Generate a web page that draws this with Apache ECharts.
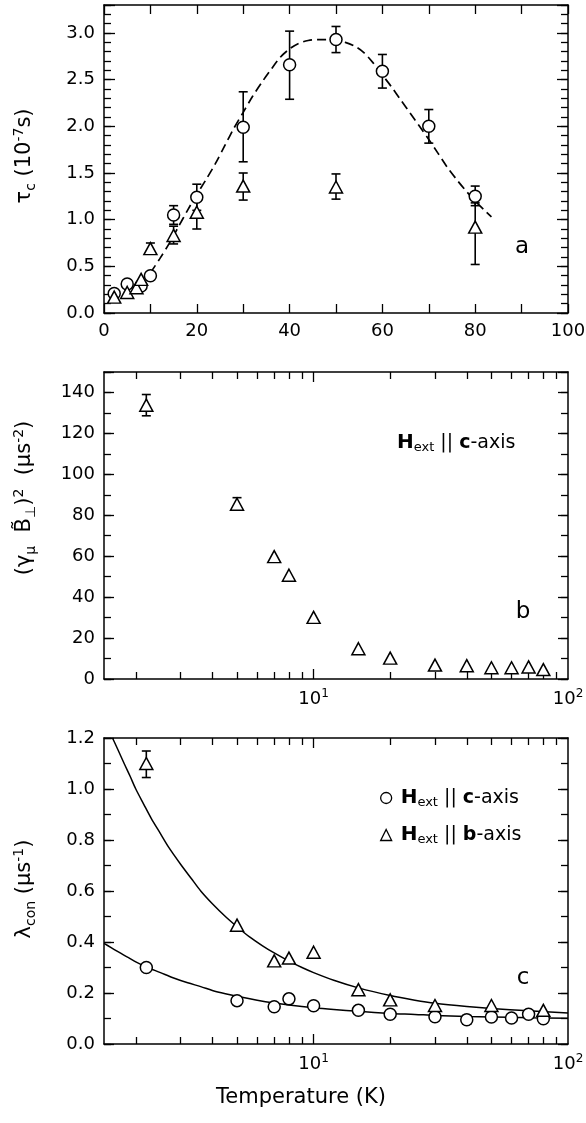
<!DOCTYPE html>
<html><head><meta charset="utf-8">
<script src="https://cdn.jsdelivr.net/npm/echarts@6/dist/echarts.min.js"></script>
<style>html,body{margin:0;padding:0;background:#fff}#c{width:586px;height:1123px}</style>
</head><body><div id="c"></div>
<script>
// ---------- Panel a: tau_c vs T (linear) ----------
const tA_circ = [2.2, 5, 8, 10, 15, 20, 30, 40, 50, 60, 70, 80];
const tauA_circ = [0.21, 0.31, 0.29, 0.40, 1.05, 1.24, 1.99, 2.66, 2.93, 2.59, 2.00, 1.25];
const tauA_circLo = [null, null, null, null, 0.95, 1.10, 1.62, 2.29, 2.79, 2.41, 1.82, 1.15];
const tauA_circHi = [null, null, null, null, 1.15, 1.38, 2.37, 3.02, 3.07, 2.77, 2.18, 1.36];
const tA_tri = [2.2, 5, 7, 8, 10, 15, 20, 30, 50, 80];
const tauA_tri = [0.17, 0.22, 0.27, 0.36, 0.69, 0.83, 1.08, 1.36, 1.35, 0.92];
const tauA_triLo = [null, null, null, null, 0.63, 0.74, 0.90, 1.21, 1.22, 0.52];
const tauA_triHi = [null, null, null, null, 0.75, 0.93, 1.27, 1.50, 1.49, 1.18];
const fitA_T = [10,12,14,16,18,20,22,24,26,28,30,32,34,36,38,40,42,44,46,48,50,52,54,56,58,60,62,64,66,68,70,72,74,76,78,80,82,83.5];
const fitA_Y = [0.43,0.58,0.74,0.92,1.10,1.27,1.43,1.60,1.79,1.98,2.15,2.32,2.47,2.61,2.74,2.83,2.89,2.92,2.93,2.93,2.92,2.90,2.86,2.79,2.68,2.55,2.42,2.28,2.14,2.00,1.86,1.71,1.56,1.43,1.31,1.20,1.10,1.03];
const xTicksA = [0, 20, 40, 60, 80, 100];

// ---------- Panel b: (gamma B)^2 vs T (log) ----------
const tB = [2.2, 5, 7, 8, 10, 15, 20, 30, 40, 50, 60, 70, 80];
const b2 = [133.8, 85.4, 59.8, 50.7, 30.1, 14.8, 10.2, 6.8, 6.5, 5.5, 5.5, 5.9, 4.6];
const b2Lo = [128.6, 82.6, null, null, null, null, null, null, null, null, null, null, null];
const b2Hi = [139.0, 88.6, null, null, null, null, null, null, null, null, null, null, null];

// ---------- Panel c: lambda_con vs T (log) ----------
const tC_circ = [2.2, 5, 7, 8, 10, 15, 20, 30, 40, 50, 60, 70, 80];
const lamC = [0.30, 0.17, 0.146, 0.177, 0.15, 0.132, 0.117, 0.107, 0.095, 0.106, 0.102, 0.117, 0.099];
const lamCLo = [null, null, null, null, null, null, null, null, 0.078, null, null, null, null];
const lamCHi = [null, null, null, null, null, null, null, null, 0.112, null, null, null, null];
const tC_tri = [2.2, 5, 7, 8, 10, 15, 20, 30, 50, 80];
const lamB = [1.10, 0.466, 0.326, 0.337, 0.36, 0.213, 0.173, 0.151, 0.151, 0.132];
const lamBLo = [1.045, null, null, null, null, null, null, null, null, null];
const lamBHi = [1.149, null, null, null, null, null, null, null, null, null];
const fitC_T = [1.5, 1.6, 1.75, 1.9, 2, 2.2, 2.5, 2.8, 3.2, 3.6, 4, 4.5, 5, 6, 7, 8, 10, 12, 15, 20, 25, 30, 40, 50, 70, 100];
const fitC_Y = [0.395, 0.378, 0.355, 0.335, 0.322, 0.302, 0.28, 0.26, 0.24, 0.225, 0.21, 0.197, 0.187, 0.172, 0.161, 0.153, 0.142, 0.135, 0.128, 0.12, 0.116, 0.112, 0.108, 0.106, 0.103, 0.101];
const fitB_T = [1.62, 1.7, 1.8, 1.9, 2.0, 2.15, 2.3, 2.5, 2.7, 3.0, 3.3, 3.6, 4, 4.5, 5, 5.6, 6.3, 7, 8, 9, 10, 12, 15, 20, 25, 30, 40, 50, 70, 100];
const fitB_Y = [1.2, 1.155, 1.10, 1.05, 1.0, 0.94, 0.885, 0.825, 0.77, 0.705, 0.65, 0.60, 0.55, 0.50, 0.46, 0.42, 0.385, 0.357, 0.325, 0.30, 0.28, 0.25, 0.22, 0.19, 0.172, 0.16, 0.147, 0.139, 0.13, 0.122];

// log-axis tick marks
const logMajor = [10];
const logMinor = [2, 3, 4, 5, 6, 7, 8, 9, 20, 30, 40, 50, 60, 70, 80, 90];
const logMin = 1.5, logMax = 100;

const FONT = 'DejaVu Sans';
const TICK_FS = 18;
const LINE = {show: true, onZero: false, lineStyle: {color: '#000', width: 1.5}};
function tick(len, custom) {
  const t = {show: true, inside: true, length: len, lineStyle: {color: '#000', width: 1.3}};
  if (custom) t.customValues = custom;
  return t;
}
function ax(gridIndex, position, cfg) {
  return Object.assign({
    gridIndex, position, type: 'value',
    splitLine: {show: false}, axisLine: {show: false, onZero: false},
    axisTick: {show: false}, axisLabel: {show: false},
    minorTick: {show: false}, minorSplitLine: {show: false}
  }, cfg);
}
function lab(formatter, extra) {
  return Object.assign({show: true, fontSize: TICK_FS, fontFamily: FONT, color: '#000', margin: 9, formatter}, extra || {});
}
const multipleOf = (v, m) => Math.abs(v / m - Math.round(v / m)) < 1e-6;

const logLabel = lab(function (v) {
  if (Math.abs(v - 10) < 1e-6) return '{n|10}{s|1}';
  if (Math.abs(v - 100) < 1e-6) return '{n|10}{s|2}';
  return '';
}, {rich: {
  n: {fontSize: TICK_FS, fontFamily: FONT, color: '#000', lineHeight: 22},
  s: {fontSize: 12, fontFamily: FONT, color: '#000', lineHeight: 9, verticalAlign: 'top'}
}});

function logXAxes(g) {
  const lm = Math.log10(logMin), lM = Math.log10(logMax);
  return [
    ax(g, 'bottom', {type: 'log', logBase: 10, min: logMin, max: logMax, axisLine: LINE, axisLabel: logLabel}),
    ax(g, 'top', {type: 'log', logBase: 10, min: logMin, max: logMax, axisLine: LINE}),
    ax(g, 'bottom', {min: lm, max: lM, axisTick: tick(10, logMajor.map(Math.log10))}),
    ax(g, 'bottom', {min: lm, max: lM, axisTick: tick(7, logMinor.map(Math.log10))}),
    ax(g, 'top', {min: lm, max: lM, axisTick: tick(10, logMajor.map(Math.log10))}),
    ax(g, 'top', {min: lm, max: lM, axisTick: tick(7, logMinor.map(Math.log10))})
  ];
}

const xAxis = [
  ax(0, 'bottom', {min: 0, max: 100, interval: 10, axisLine: LINE, axisTick: tick(9),
    axisLabel: lab(v => xTicksA.indexOf(v) >= 0 ? String(v) : '')}),
  ax(0, 'top', {min: 0, max: 100, interval: 10, axisLine: LINE, axisTick: tick(9)}),
  ...logXAxes(1),   // indices 2..7
  ...logXAxes(2)    // indices 8..13
];
const yAxis = [
  ax(0, 'left', {min: 0, max: 3.3, interval: 0.5, axisLine: LINE, axisTick: tick(11),
    axisLabel: lab(v => (multipleOf(v, 0.5) && v <= 3.01) ? v.toFixed(1) : '')}),
  ax(0, 'right', {min: 0, max: 3.3, interval: 0.5, axisLine: LINE, axisTick: tick(11)}),
  ax(0, 'left', {min: 0, max: 3.3, interval: 0.1, axisTick: tick(7)}),
  ax(0, 'right', {min: 0, max: 3.3, interval: 0.1, axisTick: tick(7)}),
  ax(1, 'left', {min: 0, max: 150, interval: 20, axisLine: LINE, axisTick: tick(10),
    axisLabel: lab(v => (multipleOf(v, 20) && v <= 140) ? String(v) : '')}),
  ax(1, 'right', {min: 0, max: 150, interval: 20, axisLine: LINE, axisTick: tick(10)}),
  ax(1, 'left', {min: 0, max: 150, interval: 10, axisTick: tick(7)}),
  ax(1, 'right', {min: 0, max: 150, interval: 10, axisTick: tick(7)}),
  ax(2, 'left', {min: 0, max: 1.2, interval: 0.2, axisLine: LINE, axisTick: tick(10),
    axisLabel: lab(v => v.toFixed(1))}),
  ax(2, 'right', {min: 0, max: 1.2, interval: 0.2, axisLine: LINE, axisTick: tick(10)}),
  ax(2, 'left', {min: 0, max: 1.2, interval: 0.1, axisTick: tick(7)}),
  ax(2, 'right', {min: 0, max: 1.2, interval: 0.1, axisTick: tick(7)})
];

const SYM_STYLE = {color: '#fff', borderColor: '#000', borderWidth: 1.5, opacity: 1};
function pairs(xs, ys) { return xs.map((x, i) => [x, ys[i]]); }
function scatter(name, xi, yi, xs, ys, symbol, size) {
  return {name, type: 'scatter', xAxisIndex: xi, yAxisIndex: yi, symbol, symbolSize: size,
    itemStyle: SYM_STYLE, z: 5, silent: true, data: pairs(xs, ys)};
}
function errBars(xi, yi, xs, lo, hi) {
  const data = [];
  xs.forEach((x, i) => { if (lo[i] != null && hi[i] != null) data.push([x, lo[i], hi[i]]); });
  return {type: 'custom', xAxisIndex: xi, yAxisIndex: yi, z: 3, silent: true,
    encode: {x: 0, y: [1, 2]}, data,
    renderItem(params, api) {
      const x = api.value(0);
      const p1 = api.coord([x, api.value(1)]), p2 = api.coord([x, api.value(2)]);
      const w = 4.5, st = {stroke: '#000', lineWidth: 1.6};
      return {type: 'group', children: [
        {type: 'line', shape: {x1: p1[0], y1: p1[1], x2: p2[0], y2: p2[1]}, style: st},
        {type: 'line', shape: {x1: p1[0] - w, y1: p1[1], x2: p1[0] + w, y2: p1[1]}, style: st},
        {type: 'line', shape: {x1: p2[0] - w, y1: p2[1], x2: p2[0] + w, y2: p2[1]}, style: st}
      ]};
    }};
}
function fitLine(xi, yi, xs, ys, dashed) {
  return {type: 'line', xAxisIndex: xi, yAxisIndex: yi, smooth: 0.3, showSymbol: false, symbol: 'none',
    silent: true, z: 2, lineStyle: {color: '#000', width: dashed ? 1.7 : 1.5, type: dashed ? [9, 5] : 'solid'},
    data: pairs(xs, ys)};
}

const series = [
  fitLine(0, 0, fitA_T, fitA_Y, true),
  errBars(0, 0, tA_circ, tauA_circLo, tauA_circHi),
  errBars(0, 0, tA_tri, tauA_triLo, tauA_triHi),
  scatter('a-circ', 0, 0, tA_circ, tauA_circ, 'circle', 12),
  scatter('a-tri', 0, 0, tA_tri, tauA_tri, 'triangle', [13, 12]),
  errBars(2, 4, tB, b2Lo, b2Hi),
  scatter('b-tri', 2, 4, tB, b2, 'triangle', [13, 12]),
  fitLine(8, 8, fitC_T, fitC_Y, false),
  fitLine(8, 8, fitB_T, fitB_Y, false),
  errBars(8, 8, tC_circ, lamCLo, lamCHi),
  errBars(8, 8, tC_tri, lamBLo, lamBHi),
  scatter('Hc', 8, 8, tC_circ, lamC, 'circle', 12),
  scatter('Hb', 8, 8, tC_tri, lamB, 'triangle', [13, 12])
];

const richLegend = {
  H: {fontFamily: FONT, fontSize: 20, fontWeight: 'bold', color: '#000', lineHeight: 22},
  sub: {fontFamily: FONT, fontSize: 13, color: '#000', lineHeight: 10, verticalAlign: 'bottom'},
  t: {fontFamily: FONT, fontSize: 19, color: '#000', lineHeight: 22},
  B: {fontFamily: FONT, fontSize: 19, fontWeight: 'bold', color: '#000', lineHeight: 22},
  sp: {width: 4}
};
function legendItem(name, top) {
  return {data: [name], left: 375, top, orient: 'vertical', itemWidth: 11, itemHeight: 11,
    itemStyle: {color: '#fff', borderColor: '#000', borderWidth: 1.3},
    selectedMode: false,
    formatter: n => '{sp|}{H|H}{sub|ext}{t| || }{B|' + (n === 'Hc' ? 'c' : 'b') + '}{t|-axis}',
    textStyle: {rich: richLegend}};
}

const richTitle = {
  n: {fontFamily: FONT, fontSize: 21, color: '#000', lineHeight: 26},
  sub: {fontFamily: FONT, fontSize: 14, color: '#000', lineHeight: 12, verticalAlign: 'bottom'},
  sup: {fontFamily: FONT, fontSize: 14, color: '#000', lineHeight: 12, verticalAlign: 'top'}
};
function vTitle(text, y) {
  return {type: 'text', x: 25, y, rotation: Math.PI / 2,
    style: {text, rich: richTitle, align: 'center', verticalAlign: 'middle', fill: '#000'}};
}
function letter(t, x, y) {
  return {type: 'text', x, y, style: {text: t, fontFamily: FONT, fontSize: 23, fill: '#000', align: 'center', verticalAlign: 'middle'}};
}

const graphic = [
  vTitle('{n|τ}{sub|c}{n| (10}{sup|-7}{n|s)}', 156),
  vTitle('{n|(γ}{sub|μ}{n|  B̃}{sub|⊥}{n|)}{sup|2}{n|  (μs}{sup|-2}{n|)}', 498),
  vTitle('{n|λ}{sub|con}{n| (μs}{sup|-1}{n|)}', 889),
  letter('a', 522, 247),
  letter('b', 523, 612),
  letter('c', 523, 978),
  {type: 'text', x: 397, y: 443, style: {
    text: '{H|H}{sub|ext}{t| || }{B|c}{t|-axis}', rich: richLegend, align: 'left', verticalAlign: 'middle'}},
  {type: 'text', x: 301, y: 1098, style: {
    text: 'Temperature (K)', fontFamily: FONT, fontSize: 21, fill: '#000', align: 'center', verticalAlign: 'middle'}}
];

const chart = echarts.init(document.getElementById('c'), null, {renderer: 'canvas'});
chart.setOption({
  backgroundColor: '#fff',
  animation: false,
  grid: [
    {left: 104, top: 5, width: 464, height: 308, outerBoundsMode: 'none'},
    {left: 104, top: 372, width: 464, height: 307, outerBoundsMode: 'none'},
    {left: 104, top: 738, width: 464, height: 306, outerBoundsMode: 'none'}
  ],
  xAxis, yAxis, series,
  legend: [legendItem('Hc', 783), legendItem('Hb', 820)],
  graphic
});
</script>
</body></html>
